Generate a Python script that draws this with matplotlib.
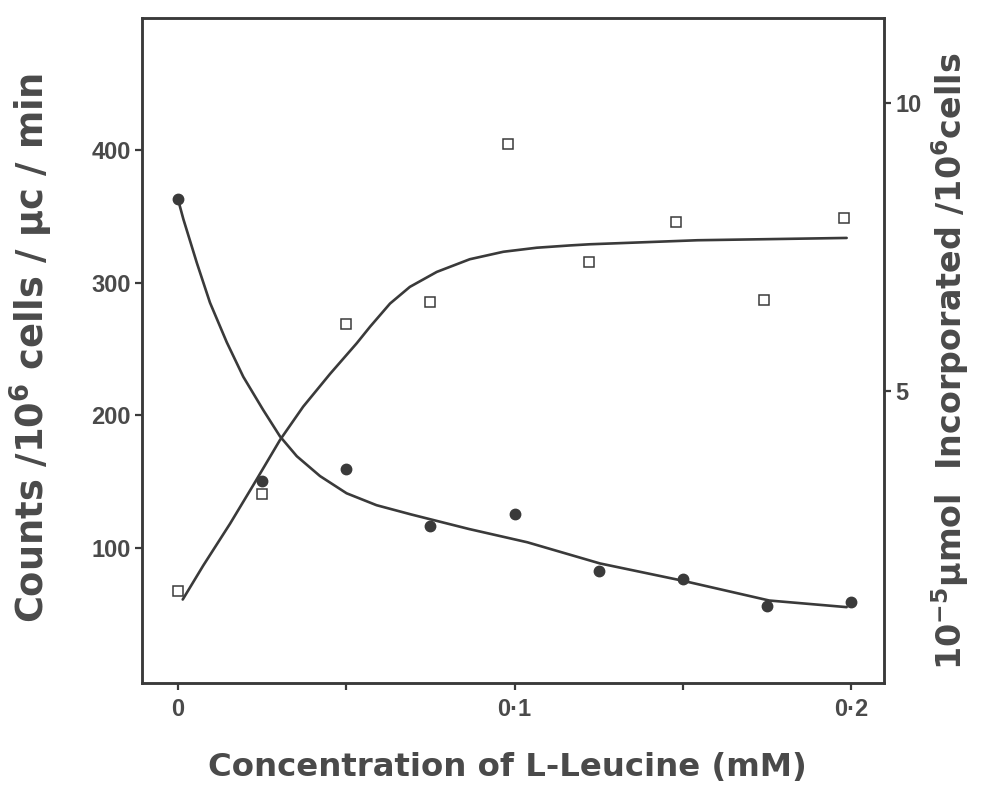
import matplotlib
matplotlib.use("Agg")
import matplotlib.pyplot as plt

# ---- data ----
conc_circles = [0.0, 0.025, 0.05, 0.075, 0.1, 0.125, 0.15, 0.175, 0.2]
counts = [363, 150, 159, 116, 125, 82, 76, 56, 59]

conc_squares = [0.0, 0.025, 0.05, 0.075, 0.098, 0.122, 0.148, 0.174, 0.198]
incorporated = [1.53, 3.22, 6.16, 6.54, 9.29, 7.25, 7.94, 6.59, 8.0]

# hand-drawn fitted curves
fit_counts_x = [0.0, 0.0016, 0.0056, 0.0095, 0.0145, 0.0194, 0.0253, 0.0303, 0.0353,
                0.0422, 0.0501, 0.059, 0.0693, 0.0865, 0.1038, 0.1254, 0.1499,
                0.1757, 0.1987]
fit_counts_y = [363, 348, 315, 285, 255, 229, 204, 184, 169, 154, 141, 132, 125, 114,
                104, 88, 75, 60, 55]

fit_inc_x = [0.0014, 0.0075, 0.0155, 0.0224, 0.0303, 0.0372, 0.0452, 0.0531, 0.0571,
             0.063, 0.0689, 0.0769, 0.0867, 0.0967, 0.1066, 0.1165, 0.1224, 0.1544,
             0.1987]
fit_inc_y = [1.38, 1.97, 2.70, 3.37, 4.15, 4.73, 5.30, 5.83, 6.12, 6.52, 6.81, 7.07,
             7.29, 7.42, 7.49, 7.53, 7.55, 7.62, 7.66]

left_ticks = [100, 200, 300, 400]
right_ticks = [5, 10]
x_ticks = [0.0, 0.1, 0.2]
x_ticklabels = ["0", "0·1", "0·2"]
x_minor = [0.05, 0.15]

# ---- style ----
ink = "#3a3a3a"
txt = "#4a4a4a"
plt.rcParams["font.family"] = ["Liberation Sans", "DejaVu Sans"]
plt.rcParams["font.weight"] = "bold"
plt.rcParams["mathtext.fontset"] = "custom"
plt.rcParams["mathtext.rm"] = "DejaVu Sans:bold"
plt.rcParams["mathtext.it"] = "DejaVu Sans:bold"
plt.rcParams["mathtext.bf"] = "DejaVu Sans:bold"

fig = plt.figure(figsize=(9.85, 7.93), dpi=100)
ax = fig.add_axes([142 / 985, 1 - 683 / 793, (884 - 142) / 985, (683 - 18) / 793])
ax2 = ax.twinx()

ax.plot(fit_counts_x, fit_counts_y, color=ink, lw=1.9, solid_capstyle="round",
        solid_joinstyle="round")
ax.plot(conc_circles, counts, "o", ms=7.5, color=ink, mec=ink)
ax2.plot(fit_inc_x, fit_inc_y, color=ink, lw=1.9, solid_capstyle="round",
         solid_joinstyle="round")
ax2.plot(conc_squares, incorporated, "s", ms=6.5, mfc="white", mec=ink, mew=1.1)

ax.set_xlim(-0.0107, 0.2098)
ax.set_ylim(-2.3, 500)
ax2.set_ylim(-0.07, 11.48)

ax.set_yticks(left_ticks)
ax.set_yticklabels([str(t) for t in left_ticks])
ax2.set_yticks(right_ticks)
ax2.set_yticklabels([str(t) for t in right_ticks])
ax.set_xticks(x_ticks)
ax.set_xticklabels(x_ticklabels)
ax.set_xticks(x_minor, minor=True)

for a in (ax, ax2):
    for s in a.spines.values():
        s.set_color(ink)
        s.set_linewidth(1.8)
    a.tick_params(colors=ink, labelcolor=txt, width=1.6, length=5, labelsize=17)
ax.tick_params(axis="x", which="minor", colors=ink, width=1.6, length=5)
ax.tick_params(axis="x", pad=6)
ax.tick_params(axis="y", pad=3)
ax2.tick_params(axis="y", pad=3)

lab_font = ["DejaVu Sans"]
fig.text(0.032, 0.562, "Counts /10$^{6}$ cells / μc / min", rotation=90,
         ha="center", va="center", fontsize=26.5, color=txt, fontweight="bold",
         family=lab_font)
fig.text(0.965, 0.545, "10$^{-5}$μmol  Incorporated /10$^{6}$cells", rotation=90,
         ha="center", va="center", fontsize=24, color=txt, fontweight="bold",
         family=lab_font)
fig.text(0.515, 0.032, "Concentration of L-Leucine (mM)", ha="center", va="center",
         fontsize=23.3, color=txt, fontweight="bold", family=lab_font)

fig.savefig("out.png", dpi=100, facecolor="white")
